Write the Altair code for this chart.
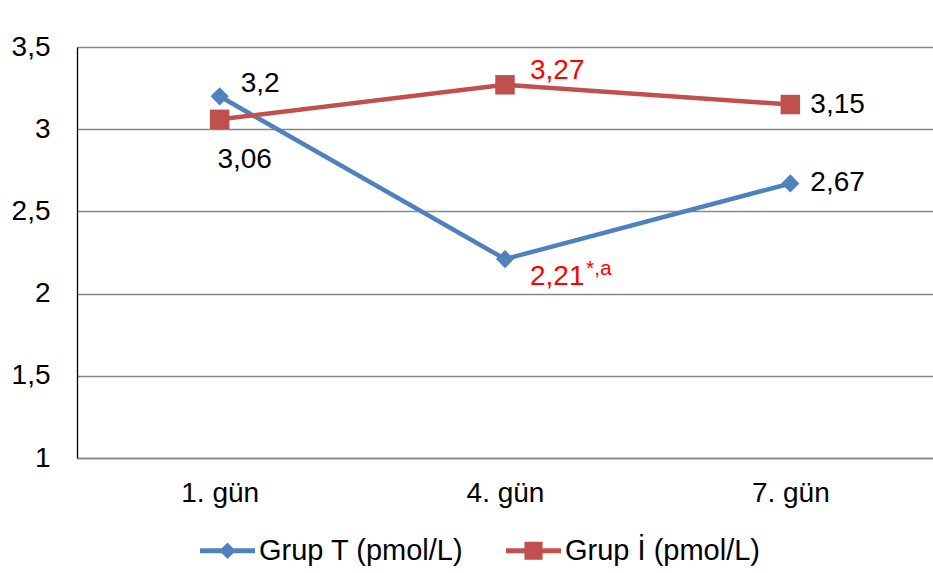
import altair as alt
import pandas as pd

# Measurement days and mean values per group
days = ["1. gün", "4. gün", "7. gün"]
grup_t = [3.2, 2.21, 2.67]
grup_i = [3.06, 3.27, 3.15]
t_marks = ["", "*,a", ""]
series_names = ["Grup T (pmol/L)", "Grup İ (pmol/L)"]
y_ticks = [1, 1.5, 2, 2.5, 3, 3.5]

BLUE = "#4F81BD"
RED = "#C0504D"
LABEL_RED = "#FF0000"
FONT = "Liberation Sans"
FS = 28

rows = []
for d, t, i, m in zip(days, grup_t, grup_i, t_marks):
    rows.append({"gun": d, "grup": series_names[0], "deger": t, "isaret": m})
    rows.append({"gun": d, "grup": series_names[1], "deger": i, "isaret": ""})
df = pd.DataFrame(rows)

base = alt.Chart(df).transform_calculate(
    etiket="replace(toString(datum.deger), '.', ',')"
)

x = alt.X(
    "gun:N",
    sort=days,
    scale=alt.Scale(type="point", padding=0.5),
    axis=alt.Axis(
        title=None, labelAngle=0, ticks=False, labelPadding=21,
        labelFont=FONT, labelFontSize=FS, labelColor="#000000",
        domainColor="#878787", domainWidth=1.5, grid=False,
    ),
)
y = alt.Y(
    "deger:Q",
    scale=alt.Scale(domain=[1, 3.5], nice=False, zero=False),
    axis=alt.Axis(
        title=None, values=y_ticks, ticks=False, labelPadding=27,
        labelExpr="replace(toString(datum.value), '.', ',')",
        labelFont=FONT, labelFontSize=FS, labelColor="#000000",
        domainColor="#000000", domainWidth=1.3,
        grid=True, gridColor="#878787", gridWidth=1.5,
    ),
)


def series(name):
    return base.transform_filter(alt.datum.grup == name)


line_t = series(series_names[0]).mark_line(color=BLUE, strokeWidth=4.5).encode(x=x, y=y)
line_i = series(series_names[1]).mark_line(color=RED, strokeWidth=4.5).encode(x=x, y=y)
pts_t = series(series_names[0]).mark_point(
    shape="diamond", filled=True, size=330, color=BLUE, opacity=1
).encode(x=x, y=y)
pts_i = series(series_names[1]).mark_point(
    shape="square", filled=True, size=380, color=RED, opacity=1
).encode(x=x, y=y)


def value_label(name, day, dx, dy, color="#000000", align="left"):
    return (
        base.transform_filter((alt.datum.grup == name) & (alt.datum.gun == day))
        .mark_text(font=FONT, fontSize=FS, color=color, align=align,
                   baseline="middle", dx=dx, dy=dy)
        .encode(x=x, y=y, text="etiket:N")
    )


labels = [
    value_label(series_names[0], days[0], 21, -12),
    value_label(series_names[1], days[0], 25, 41, align="center"),
    value_label(series_names[1], days[1], 25, -14, color=LABEL_RED),
    value_label(series_names[0], days[1], 25, 18, color=LABEL_RED),
    value_label(series_names[1], days[2], 20, 0),
    value_label(series_names[0], days[2], 20, 0),
]

# significance note written as a superscript after the day-4 value of group T
sup = (
    base.transform_filter(alt.datum.isaret != "")
    .mark_text(font=FONT, fontSize=21, color=LABEL_RED, align="left",
               baseline="middle", dx=81, dy=10)
    .encode(x=x, y=y, text="isaret:N")
)

# legend symbols: a line segment with the series marker in its middle
path_t = "M-1,-0.09H1V0.09H-1Z M0,-0.3L0.3,0L0,0.3L-0.3,0Z"
path_i = "M-1,-0.09H1V0.09H-1Z M-0.33,-0.33H0.33V0.33H-0.33Z"
legend = alt.Legend(
    title=None, orient="none", direction="horizontal",
    legendX=123, legendY=476, symbolSize=3025, symbolStrokeWidth=0,
    labelFont=FONT, labelFontSize=29, labelColor="#000000", labelLimit=0,
    labelOffset=4, columnPadding=42,
)
legend_layer = (
    base.transform_filter("false")
    .mark_point(filled=True, opacity=1)
    .encode(
        color=alt.Color("grup:N", scale=alt.Scale(domain=series_names, range=[BLUE, RED]), legend=legend),
        shape=alt.Shape("grup:N", scale=alt.Scale(domain=series_names, range=[path_t, path_i]), legend=legend),
    )
)

chart = (
    alt.layer(line_t, line_i, pts_t, pts_i, *labels, sup, legend_layer)
    .properties(
        width=856, height=411, autosize="none",
        padding={"left": 77, "top": 47, "right": 0, "bottom": 115},
        background="#ffffff",
    )
    .configure_view(stroke=None)
)

chart.save("out.html", embed_options={"renderer": "svg", "actions": False})
